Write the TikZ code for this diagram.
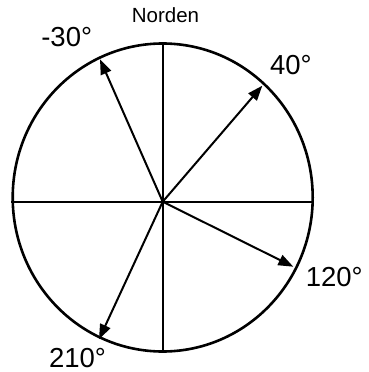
\documentclass[tikz,border=0pt]{standalone}
\usepackage{fontspec}
\setmainfont{Liberation Sans}
\usetikzlibrary{arrows.meta,shapes.geometric}

\begin{document}
\begin{tikzpicture}[x=1pt,y=-1pt,
    dial/.style={draw,ellipse,line width=2.6pt,inner sep=0pt,minimum width=300pt,minimum height=308pt},
    axis/.style={line width=2pt},
    bearing/.style={line width=2pt,-{Triangle[length=15pt,width=11pt]}},
    deg/.style={font=\fontsize{27.5}{27.5}\selectfont,inner sep=0pt,anchor=base},
    nord/.style={font=\fontsize{20.5}{20.5}\selectfont,inner sep=0pt,anchor=base}]
  \useasboundingbox (0,0) rectangle (369,372);

  % the dial and its cross
  \node[dial] (rose) at (162.7,197.5) {};
  \coordinate (O) at (162.7,201.7);
  \draw[axis] (rose.north) -- (rose.south);
  \draw[axis] (rose.west |- O) -- (rose.east |- O);

  % bearings
  \coordinate (b330) at (100,59.3);
  \coordinate (b40)  at (262.3,85.7);
  \coordinate (b120) at (293.3,266.7);
  \coordinate (b210) at (99,339.3);
  \draw[bearing] (O) -- (b330);
  \draw[bearing] (O) -- (b40);
  \draw[bearing] (O) -- (b120);
  \draw[bearing] (O) -- (b210);

  % labels
  \node[nord] (north) at (165.5,22) {Norden};
  \node[deg] (l330) at (66.7,46)    {-30°};
  \node[deg] (l40)  at (290.8,74)   {40°};
  \node[deg] (l120) at (334.3,286.7) {120°};
  \node[deg] (l210) at (77.5,367.5) {210°};
\end{tikzpicture}
\end{document}
